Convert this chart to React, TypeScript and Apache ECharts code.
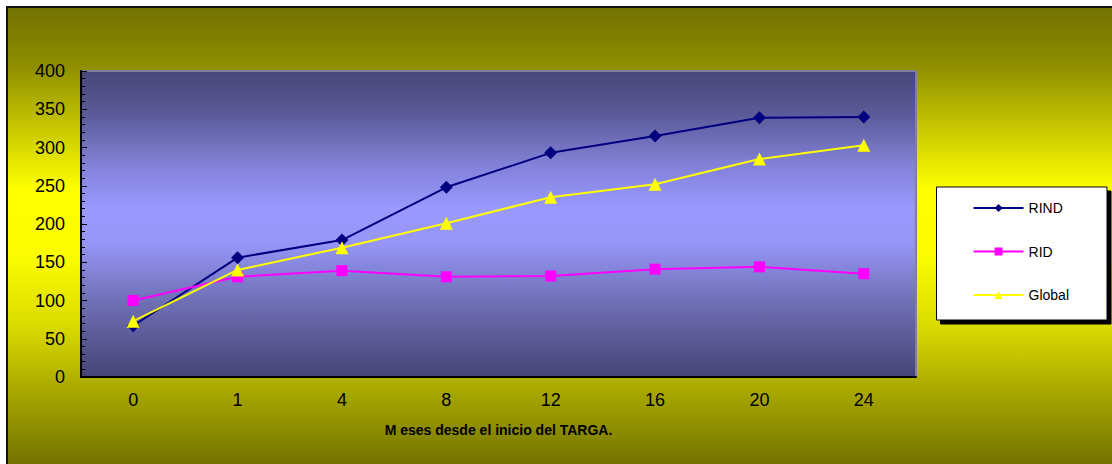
import React, { useEffect, useRef } from "react";
import * as echarts from "echarts";

// Months since start of TARGA treatment
const months = ["0", "1", "4", "8", "12", "16", "20", "24"];

const rind = [67, 156, 179, 248, 293, 315, 339, 340];
const rid = [100, 131, 139, 131, 132, 141, 144, 135];
const globalSeries = [73, 140, 169, 201, 235, 252, 285, 303];

const yTicks = { min: 0, max: 400, interval: 50 };

const FONT = "'Liberation Sans', Arial, sans-serif";

const W = 1106;
const H = 458;
const GRID = { left: 75, top: 65, right: 196, bottom: 87 };

export default function App() {
  const ref = useRef<HTMLDivElement>(null);

  useEffect(() => {
    if (!ref.current) return;
    const chart = echarts.init(ref.current, undefined, { renderer: "svg" });

    const plotW = W - GRID.left - GRID.right;
    const plotH = H - GRID.top - GRID.bottom;

    chart.setOption({
      animation: false,
      graphic: [
        {
          type: "rect",
          z: -10,
          silent: true,
          shape: { x: 0, y: 0, width: W, height: H },
          style: {
            fill: new echarts.graphic.LinearGradient(0, 0, 0, 1, [
              { offset: 0, color: "#717100" },
              { offset: 0.13, color: "#8e8e00" },
              { offset: 0.28, color: "#cdcd00" },
              { offset: 0.4, color: "#ffff00" },
              { offset: 0.55, color: "#fcfc00" },
              { offset: 0.7, color: "#dada00" },
              { offset: 0.84, color: "#a8a800" },
              { offset: 1, color: "#737300" },
            ]),
          },
        },
        {
          type: "polyline",
          z: 10,
          silent: true,
          shape: { points: [[1, H], [1, 1], [W, 1]] },
          style: { stroke: "#111", lineWidth: 2, fill: null },
        },
        {
          type: "rect",
          z: -5,
          silent: true,
          shape: { x: GRID.left, y: GRID.top, width: plotW, height: plotH },
          style: {
            fill: new echarts.graphic.LinearGradient(0, 0, 0, 1, [
              { offset: 0, color: "#474777" },
              { offset: 0.14, color: "#5a5a98" },
              { offset: 0.3, color: "#8080d6" },
              { offset: 0.45, color: "#9999ff" },
              { offset: 0.56, color: "#9696f8" },
              { offset: 0.76, color: "#6e6eb4" },
              { offset: 1, color: "#454575" },
            ]),
            stroke: "#7f7f9a",
            lineWidth: 2,
          },
        },
      ],
      grid: { ...GRID },
      legend: {
        orient: "vertical",
        right: 5,
        top: 181,
        backgroundColor: "#ffffff",
        borderColor: "#000000",
        borderWidth: 1,
        shadowColor: "#000000",
        shadowBlur: 0,
        shadowOffsetX: 4,
        shadowOffsetY: 4,
        padding: [14, 38, 18, 36],
        itemWidth: 50,
        itemHeight: 10,
        itemGap: 29.5,
        textStyle: { fontFamily: FONT, fontSize: 14, color: "#000" },
        data: ["RIND", "RID", "Global"],
      },
      xAxis: [
        {
          type: "category",
          data: months,
          boundaryGap: true,
          axisLine: { lineStyle: { color: "#000", width: 2 } },
          axisTick: { inside: true, length: 5, lineStyle: { color: "#000" } },
          axisLabel: {
            fontFamily: FONT,
            fontSize: 18,
            color: "#000",
            margin: 14,
          },
          name: "M eses desde el inicio del TARGA.",
          nameLocation: "middle",
          nameGap: 46,
          nameTextStyle: {
            fontFamily: FONT,
            fontSize: 14,
            fontWeight: "bold",
            color: "#000",
          },
          splitLine: { show: false },
        },
        {
          type: "category",
          data: months,
          position: "bottom",
          boundaryGap: true,
          axisLine: { show: false },
          axisTick: {
            inside: true,
            alignWithLabel: true,
            length: 4,
            lineStyle: { color: "#000" },
          },
          axisLabel: { show: false },
          splitLine: { show: false },
        },
      ],
      yAxis: {
        type: "value",
        min: yTicks.min,
        max: yTicks.max,
        interval: yTicks.interval,
        axisLine: { show: true, lineStyle: { color: "#000", width: 2 } },
        axisTick: { show: true, inside: true, length: 6, lineStyle: { color: "#000" } },
        minorTick: { show: true, splitNumber: 5, length: 4, lineStyle: { color: "#000" } },
        axisLabel: { fontFamily: FONT, fontSize: 18, color: "#000", margin: 16 },
        splitLine: { show: false },
      },
      series: [
        {
          name: "RIND",
          type: "line",
          data: rind,
          symbol: "diamond",
          symbolSize: 13,
          lineStyle: { color: "#000080", width: 2 },
          itemStyle: { color: "#000080" },
          z: 3,
        },
        {
          name: "RID",
          type: "line",
          data: rid,
          symbol: "rect",
          symbolSize: 11,
          lineStyle: { color: "#ff00ff", width: 2 },
          itemStyle: { color: "#ff00ff" },
          z: 4,
        },
        {
          name: "Global",
          type: "line",
          data: globalSeries,
          symbol: "triangle",
          symbolSize: 13,
          lineStyle: { color: "#ffff00", width: 2 },
          itemStyle: { color: "#ffff00" },
          z: 5,
        },
      ],
    });

    return () => chart.dispose();
  }, []);

  return (
    <div
      ref={ref}
      style={{ position: "absolute", left: 6, top: 6, width: W, height: H }}
    />
  );
}
